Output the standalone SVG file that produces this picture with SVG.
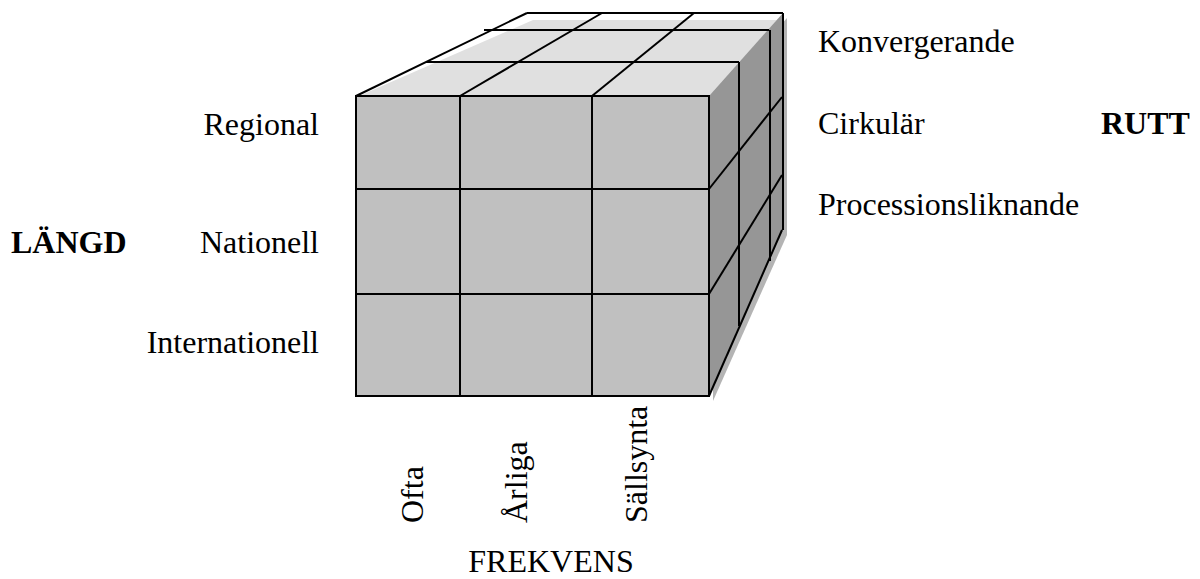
<svg xmlns="http://www.w3.org/2000/svg" width="1200" height="579" viewBox="0 0 1200 579">
<style>
.ln{stroke:#000;stroke-width:2;fill:none}
</style>
<rect width="1200" height="579" fill="#fff"/>
<g id="cube">
<polygon points="713,101 787,18 787,235 713,401" fill="#b4b4b4"/>
<polygon points="359,96 533,20 777,20 709,96" fill="#e0e0e0"/>
<polygon points="709,96 783,13 783,230 709,396" fill="#969696"/>
<rect x="356" y="96" width="353" height="300" fill="#c0c0c0"/>
<g id="grid" class="ln">
<rect x="356" y="96" width="353" height="300"/>
<line x1="460" y1="96" x2="460" y2="396"/>
<line x1="592" y1="96" x2="592" y2="396"/>
<line x1="356" y1="189" x2="709" y2="189"/>
<line x1="356" y1="294" x2="709" y2="294"/>
<line x1="426" y1="62" x2="739" y2="62"/>
<line x1="484" y1="30" x2="769" y2="30"/>
<line x1="527" y1="13" x2="783" y2="13"/>
<line x1="356" y1="96" x2="527" y2="13"/>
<line x1="460" y1="96" x2="602" y2="13"/>
<line x1="592" y1="96" x2="694" y2="13"/>
<line x1="739" y1="62" x2="739" y2="326"/>
<line x1="770" y1="30" x2="770" y2="261"/>
<line x1="783" y1="13" x2="783" y2="230"/>
<line x1="709" y1="189" x2="782" y2="97"/>
<line x1="709" y1="294" x2="782" y2="175"/>
<line x1="709" y1="396" x2="782" y2="230"/>
</g>
</g>
<g id="length-labels">
<text font-family="Liberation Serif" font-size="32" x="319" y="135" text-anchor="end">Regional</text>
<text font-family="Liberation Serif" font-size="32" x="319" y="253" text-anchor="end">Nationell</text>
<text font-family="Liberation Serif" font-size="32" x="319" y="353" text-anchor="end">Internationell</text>
<text font-family="Liberation Serif" font-size="32" font-weight="bold" x="11" y="253">LÄNGD</text>
</g>
<g id="route-labels">
<text font-family="Liberation Serif" font-size="32" x="818" y="52">Konvergerande</text>
<text font-family="Liberation Serif" font-size="32" x="818" y="134">Cirkulär</text>
<text font-family="Liberation Serif" font-size="32" x="818" y="215">Processionsliknande</text>
<text font-family="Liberation Serif" font-size="32" font-weight="bold" x="1101" y="134">RUTT</text>
</g>
<g id="freq-labels">
<text font-family="Liberation Serif" font-size="32" transform="translate(423,523) rotate(-90)">Ofta</text>
<text font-family="Liberation Serif" font-size="32" transform="translate(527,523) rotate(-90)">Årliga</text>
<text font-family="Liberation Serif" font-size="32" transform="translate(647,523) rotate(-90)">Sällsynta</text>
<text font-family="Liberation Serif" font-size="32" x="551" y="572" text-anchor="middle">FREKVENS</text>
</g>
</svg>
